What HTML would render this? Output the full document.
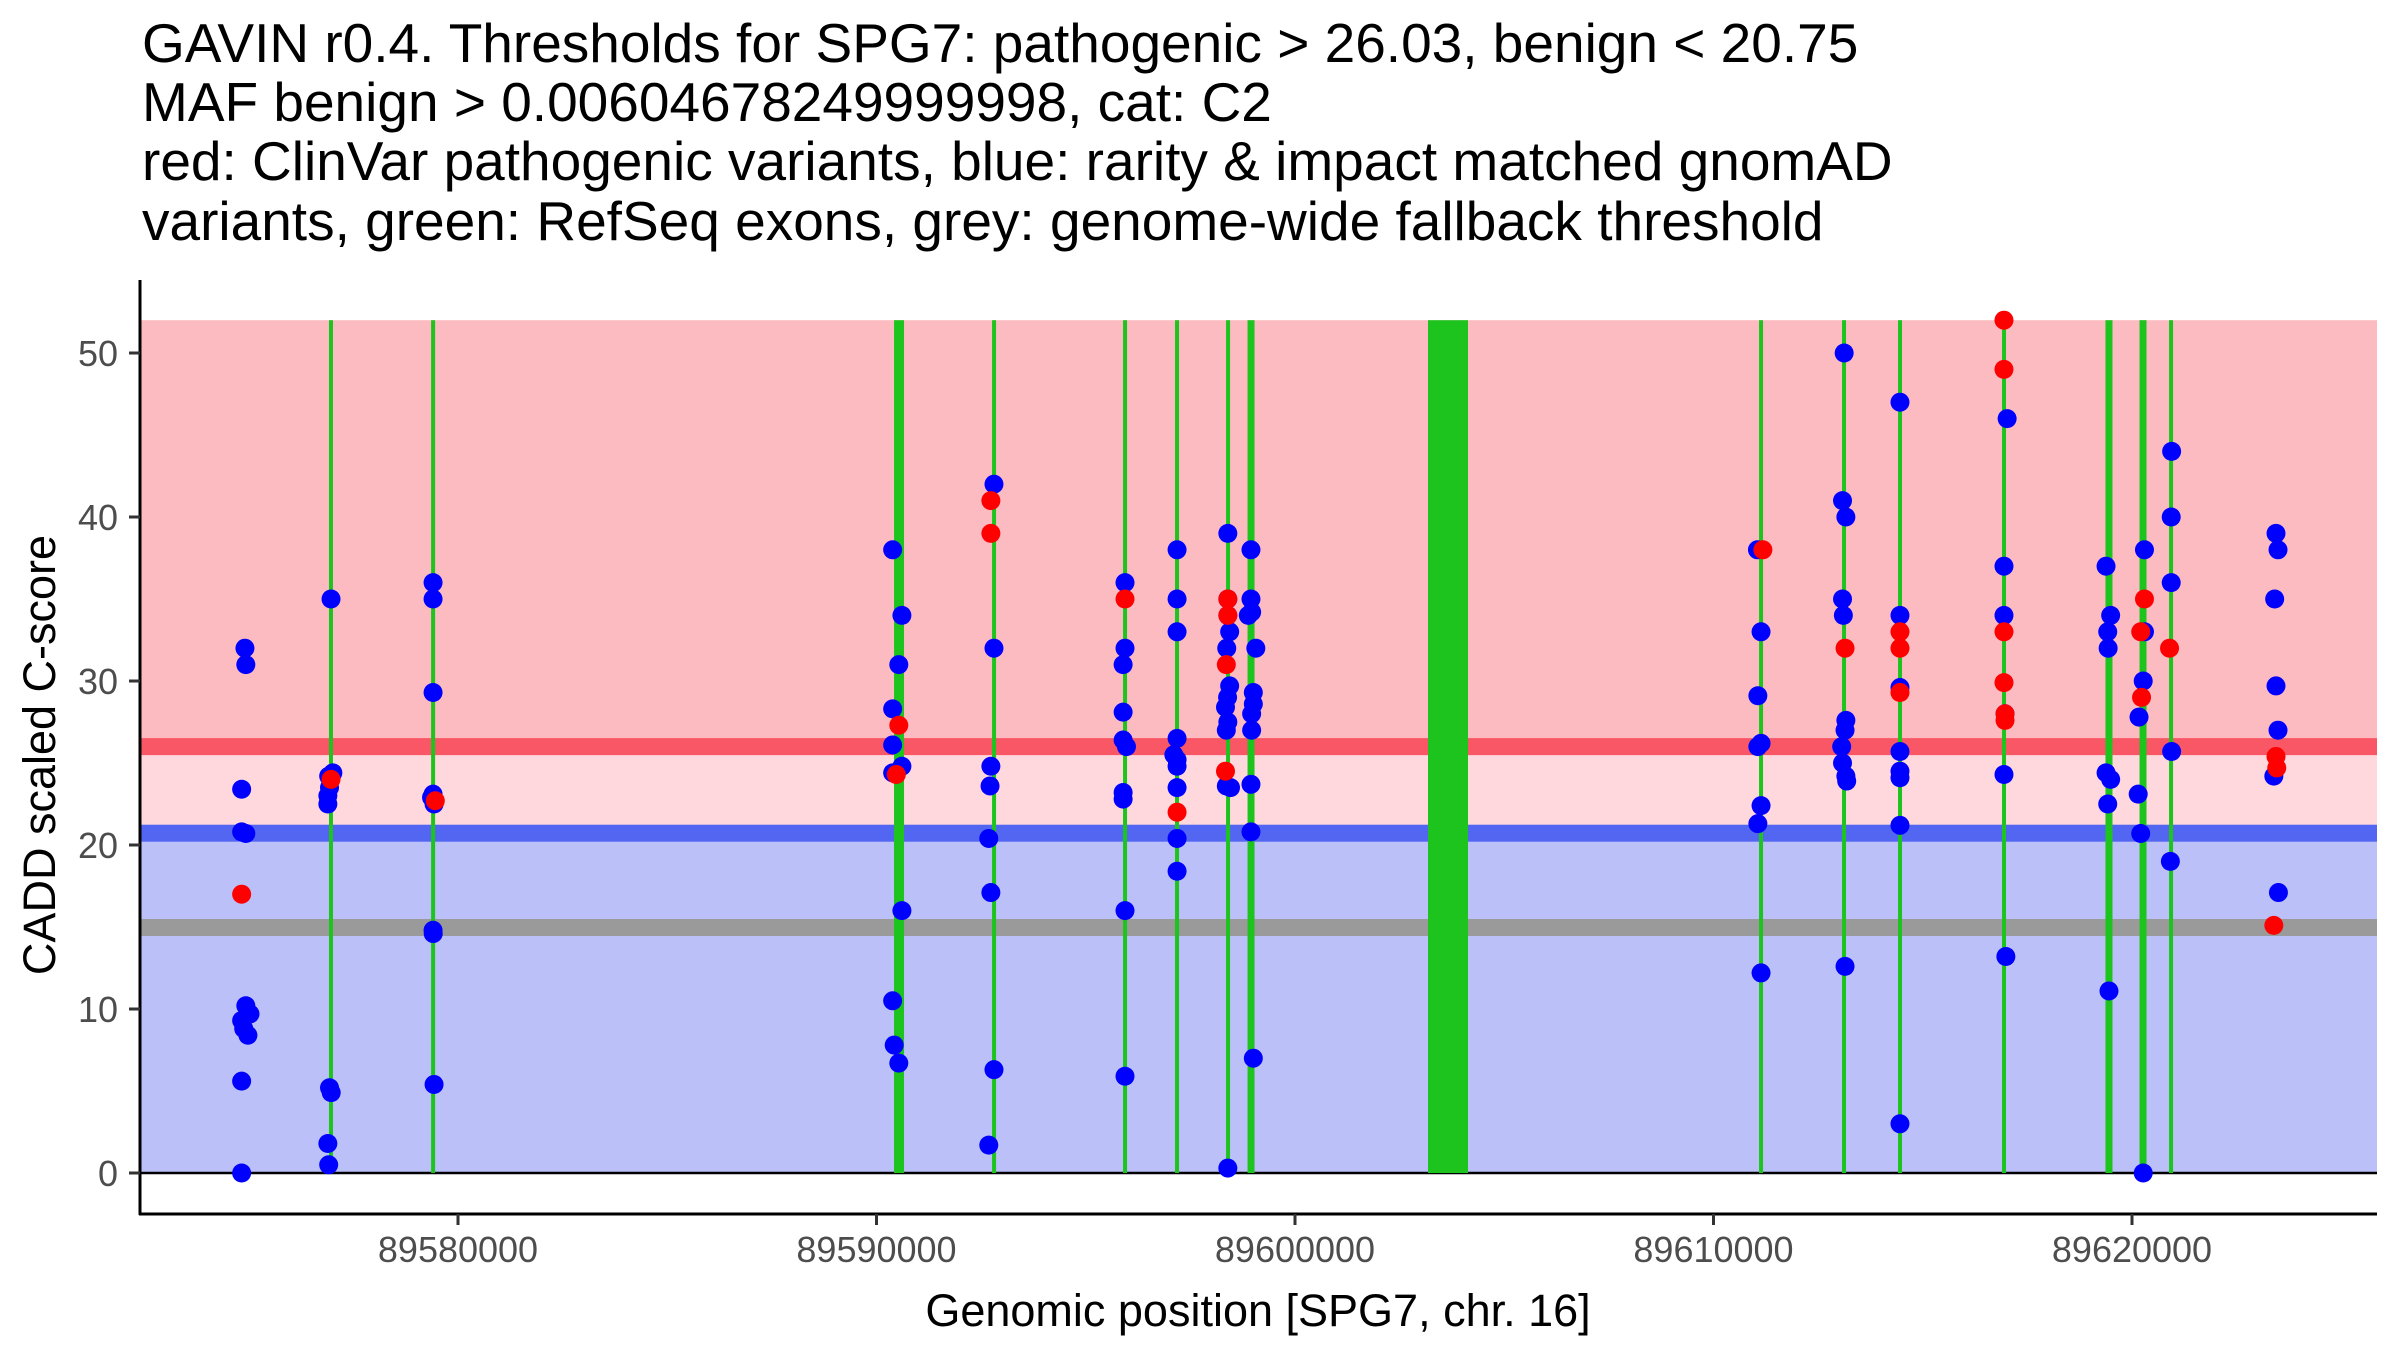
<!DOCTYPE html>
<html><head><meta charset="utf-8"><style>
body{margin:0;background:#fff}
svg{display:block;font-family:"Liberation Sans",sans-serif}
</style></head><body>
<svg id="chart" width="2400" height="1350">
<g font-size="55" fill="#000">
<text x="142" y="62">GAVIN r0.4. Thresholds for SPG7: pathogenic &gt; 26.03, benign &lt; 20.75</text>
<text x="142" y="121">MAF benign &gt; 0.00604678249999998, cat: C2</text>
<text x="142" y="180">red: ClinVar pathogenic variants, blue: rarity &amp; impact matched gnomAD</text>
<text x="142" y="240">variants, green: RefSeq exons, grey: genome-wide fallback threshold</text>
</g>
<g id="bands"></g><g id="exons"></g><g id="points"></g><g id="axes"></g>
<text x="1258" y="1326" font-size="45" text-anchor="middle">Genomic position [SPG7, chr. 16]</text>
<text transform="translate(55,755) rotate(-90)" font-size="45" text-anchor="middle">CADD scaled C-score</text>
</svg>
<script>
const pathoThreshold = 26.03;
const benignThreshold = 20.75;
const fallbackThreshold = 15;
const yTicks = [0,10,20,30,40,50];
const xTicks = [89580000,89590000,89600000,89610000,89620000];
const exonStart = [89576940,89579380,89590419,89592785,89595915,89597157,89598376,89598866,89603178,89611112,89613095,89614433,89616918,89619366,89620180,89620909];
const exonEnd   = [89576990,89579430,89590658,89592833,89595963,89597205,89598424,89599033,89604134,89611160,89613143,89614481,89616966,89619534,89620347,89620957];
const benignPos = [
89574909,89574930,89574830,89574830,89574930,89574930,89575030,89574830,89574880,89574980,89574830,89574830,
89576966,89577010,89576910,89576930,89576890,89576890,89576930,89576970,89576890,89576910,
89579404,89579404,89579404,89579404,89579368,89579428,89579404,89579408,89579428,
89590386,89590386,89590386,89590386,89590533,89590607,89590607,89590607,89590386,89590423,89590533,
89592807,89592807,89592733,89592713,89592683,89592733,89592807,89592683,
89595938,89595938,89595893,89595893,89595893,89595973,89595893,89595893,89595938,89595938,
89597182,89597182,89597182,89597182,89597105,89597182,89597182,89597182,89597182,89597182,
89598395,89598395,89598395,89598439,89598369,89598439,89598389,89598339,89598395,89598359,89598359,89598459,89598395,
89598948,89598948,89598884,89598964,89599064,89599004,89599004,89598964,89598964,89598948,89598948,89599004,
89611050,89611136,89611060,89611136,89611060,89611136,89611060,89611136,
89613122,89613083,89613163,89613083,89613103,89613163,89613143,89613063,89613083,89613163,89613183,89613143,
89614456,89614456,89614456,89614456,89614456,89614456,89614456,89614456,
89617016,89616941,89616941,89616966,89616941,89616986,
89619380,89619490,89619420,89619430,89619380,89619490,89619420,89619450,
89620298,89620298,89620268,89620168,89620148,89620208,89620268,
89620947,89620937,89620937,89620947,89620917,
89623441,89623489,89623409,89623441,89623489,89623389,89623499];
const benignScore = [
32,31,23.4,20.8,20.7,10.2,9.7,9.3,8.8,8.4,5.6,0,
35,24.4,24.2,23.5,23,22.5,5.2,4.9,1.8,0.5,
36,35,29.3,23.1,22.9,22.5,14.8,14.6,5.4,
38,28.3,26.1,24.4,31,34,24.8,16,10.5,7.8,6.7,
42,32,24.8,23.6,20.4,17.1,6.3,1.7,
36,32,31,28.1,26.4,26,23.2,22.8,16,5.9,
38,35,33,26.5,25.5,25.2,24.8,23.5,20.4,18.4,
39,35,34,33,32,29.7,29,28.4,27.5,27,23.6,23.5,0.3,
38,35,34,34.2,32,29.3,28.6,28,27,23.7,20.8,7,
38,33,29.1,26.2,26,22.4,21.3,12.2,
50,41,40,35,34,27.6,27,26,25,24.2,23.9,12.6,
47,34,29.6,25.7,24.5,24.1,21.2,3,
46,37,34,28,24.3,13.2,
37,34,33,32,24.4,24,22.5,11.1,
38,33,30,27.8,23.1,20.7,0,
44,40,36,25.7,19,
39,38,35,29.7,27,24.2,17.1];
const pathoPos = [89574830,89576966,89579458,89590533,89590473,89592733,89592733,89595938,89597182,89598395,89598395,89598359,89598339,89611180,89613143,89614456,89614456,89614456,89616941,89616941,89616941,89616941,89616966,89616966,89620298,89620208,89620228,89620897,89623441,89623459,89623389];
const pathoScore = [17,24,22.7,27.3,24.3,41,39,35,22,35,34,31,24.5,38,32,33,32,29.3,52,49,33,29.9,28,27.6,35,33,29,32,25.4,24.7,15.1];

const NS='http://www.w3.org/2000/svg';
const L=140,R=2377,T=280,B=1214;
const X=p=>458+(p-89580000)*0.04185;
const Y=v=>1173-v*16.4;
function mk(tag,attrs,parent){const e=document.createElementNS(NS,tag);for(const k in attrs)e.setAttribute(k,attrs[k]);parent.appendChild(e);return e;}
const bands=document.getElementById('bands');
let e;
e=mk('rect',{x:L,y:Y(52),width:R-L,height:Y(pathoThreshold)-Y(52),fill:'#FCBBC0'},bands);


e=mk('rect',{x:L,y:Y(pathoThreshold),width:R-L,height:Y(benignThreshold)-Y(pathoThreshold),fill:'#FFD8DD'},bands);


e=mk('rect',{x:L,y:Y(benignThreshold),width:R-L,height:Y(0)-Y(benignThreshold),fill:'#BBC1F8'},bands);


e=mk('rect',{x:L,y:Y(pathoThreshold)-8,width:R-L,height:17,fill:'#F95766'},bands);


e=mk('rect',{x:L,y:Y(benignThreshold)-8,width:R-L,height:17,fill:'#5366F2'},bands);


e=mk('rect',{x:L,y:Y(fallbackThreshold)-8,width:R-L,height:17,fill:'#9A9A9A'},bands);


e=mk('line',{x1:L,x2:R,y1:Y(0),y2:Y(0),stroke:'#000','stroke-width':2.5},bands);


const ex=document.getElementById('exons');
exonStart.forEach((s,i)=>{const x1=X(s),x2=X(exonEnd[i]);const w=Math.max(4,x2-x1);const c=(x1+x2)/2;
const r=mk('rect',{x:c-w/2,y:Y(52),width:w,height:Y(0)-Y(52),fill:'#1EC41E'},ex);

});
const pts=document.getElementById('points');
benignPos.forEach((p,i)=>{const c=mk('circle',{cx:X(p),cy:Y(benignScore[i]),r:9.5,fill:'#0000FF'},pts);

});
pathoPos.forEach((p,i)=>{const c=mk('circle',{cx:X(p),cy:Y(pathoScore[i]),r:9.5,fill:'#FF0000'},pts);

});
const ax=document.getElementById('axes');
e=mk('line',{x1:L,x2:L,y1:T,y2:B+1,stroke:'#000','stroke-width':3},ax);


e=mk('line',{x1:L-1,x2:R,y1:B,y2:B,stroke:'#000','stroke-width':3},ax);


yTicks.forEach(v=>{mk('line',{x1:L-11,x2:L,y1:Y(v),y2:Y(v),stroke:'#333','stroke-width':3},ax);
const t=mk('text',{x:118,y:Y(v)+13,'text-anchor':'end','font-size':36,fill:'#4d4d4d'},ax);t.textContent=v;

});
xTicks.forEach(v=>{mk('line',{x1:X(v),x2:X(v),y1:B,y2:B+11,stroke:'#333','stroke-width':3},ax);
const t=mk('text',{x:X(v),y:1262,'text-anchor':'middle','font-size':36,fill:'#4d4d4d'},ax);t.textContent=v;

});
</script>
</body></html>
